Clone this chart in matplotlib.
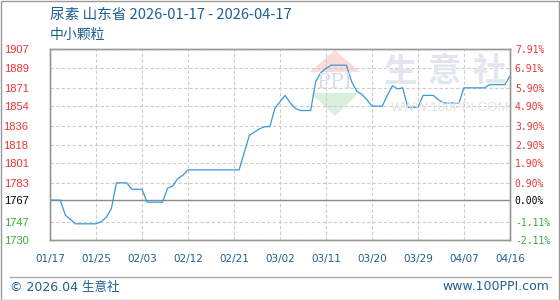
import matplotlib
matplotlib.use("Agg")
import matplotlib.pyplot as plt
from matplotlib.patches import Polygon, Rectangle
from matplotlib.lines import Line2D

# data
x_labels = ["01/17", "01/25", "02/03", "02/12", "02/21", "03/02",
            "03/11", "03/20", "03/29", "04/07", "04/16"]
prices = [1767, 1767, 1767, 1753, 1749, 1745, 1745, 1745, 1745, 1745,
          1747, 1751, 1759, 1783, 1783, 1783, 1777, 1777, 1777, 1765,
          1765, 1765, 1765, 1778, 1780, 1787, 1790, 1795, 1795, 1795,
          1795, 1795, 1795, 1795, 1795, 1795, 1795, 1795, 1811, 1827,
          1830, 1833, 1835, 1835, 1852, 1858, 1864, 1857, 1852, 1850,
          1850, 1850, 1877, 1885, 1889, 1892, 1892, 1892, 1892, 1877,
          1868, 1865, 1860, 1854, 1854, 1854, 1864, 1873, 1870, 1871,
          1853, 1853, 1853, 1864, 1864, 1864, 1860, 1857, 1857, 1857,
          1857, 1871, 1871, 1871, 1871, 1871, 1874, 1874, 1874, 1874,
          1882]
base = 1767
y_ticks = [1730, 1747, 1767, 1783, 1801, 1818, 1836, 1854, 1871, 1889, 1907]
pct_labels = ["-2.11%", "-1.11%", "0.00%", "0.90%", "1.90%", "2.90%",
              "3.90%", "4.90%", "5.90%", "6.91%", "7.91%"]

red = "#ee3333"
green = "#33aa33"
blue_txt = "#1e5f93"

W, H = 560, 300
fig = plt.figure(figsize=(5.6, 3.0), dpi=100)
ax = fig.add_axes([50 / W, 60 / H, 460 / W, 191 / H])


def fx(px):
    return px / W


def fy(py):
    return 1 - py / H


# watermark
ax.add_patch(Polygon([(fx(310), fy(72)), (fx(360), fy(72)), (fx(335), fy(50))],
                     closed=True, transform=fig.transFigure, facecolor="#fadcd8",
                     edgecolor="none", zorder=0.6))
ax.add_patch(Polygon([(fx(311), fy(93)), (fx(359), fy(93)), (fx(335), fy(116))],
                     closed=True, transform=fig.transFigure, facecolor="#d9f0dc",
                     edgecolor="none", zorder=0.6))
fig.text(fx(335), fy(82), "PPI", fontsize=15, family="DejaVu Serif", color="#d9e0ec",
         ha="center", va="center", zorder=0.7)
for ch, cx in zip("生意社", [401, 444, 489]):
    fig.text(fx(cx), fy(72), ch, fontsize=24, family="Noto Sans CJK SC",
             fontweight="bold", color="#e2e6ef", ha="center", va="center", zorder=0.7)
fig.text(fx(450), fy(108), "WWW.100PPI.COM", fontsize=9.5, family="Liberation Sans",
         color="#e3e3e3", ha="center", va="center", zorder=0.7)

days = list(range(len(prices)))
ax.plot(days, prices, color="#3a98d8", linewidth=0.9, zorder=3)
ax.axhline(base, color="#8c8c8c", linewidth=1.0, zorder=2)

ax.set_xlim(0, len(prices) - 1)
ax.set_ylim(y_ticks[0], y_ticks[-1])

ax.set_xticks(range(0, len(prices), 9))
ax.set_xticklabels(x_labels, fontsize=7.5, color=blue_txt, family="DejaVu Sans")
ax.tick_params(axis="x", length=0, pad=10)

ax.set_yticks(y_ticks)
ax.set_yticklabels([str(v) for v in y_ticks], fontsize=8, family="Liberation Sans")
ax.tick_params(axis="y", length=0, pad=15.5)
for lab, v in zip(ax.get_yticklabels(), y_ticks):
    lab.set_color(red if v > base else (green if v < base else "black"))

ax.grid(True, color="#cccccc", linestyle=(0, (3, 2)), linewidth=0.8)

ax2 = ax.twinx()
ax2.set_ylim(ax.get_ylim())
ax2.set_yticks(y_ticks)
ax2.set_yticklabels(pct_labels, fontsize=7, family="DejaVu Sans Mono")
ax2.tick_params(axis="y", length=0, pad=3.5)
for lab, v in zip(ax2.get_yticklabels(), y_ticks):
    lab.set_color(red if v > base else (green if v < base else "black"))

for a in (ax, ax2):
    for s in a.spines.values():
        s.set_color("#999999")
        s.set_linewidth(1.0)

# titles
fig.text(fx(50), fy(15), "尿素 山东省 2026-01-17 - 2026-04-17", fontsize=10.5,
         family=["Noto Sans CJK SC", "DejaVu Sans"], color=blue_txt, va="center")
fig.text(fx(50), fy(35), "中小颗粒", fontsize=10,
         family=["Noto Sans CJK SC", "DejaVu Sans"], color=blue_txt, va="center")

# footer
fig.add_artist(Line2D([fx(10), fx(551)], [fy(277), fy(277)], transform=fig.transFigure,
                      color="#aaaaaa", linewidth=1.0))
fig.text(fx(10), fy(287), "© 2026.04 生意社", fontsize=9,
         family=["DejaVu Sans", "Noto Sans CJK SC"], color=blue_txt, va="center")
fig.text(fx(549), fy(287), "www.100PPI.com", fontsize=9, family="DejaVu Sans",
         color=blue_txt, va="center", ha="right")

fig.add_artist(Rectangle((0.5 / W, 0.5 / H), 1 - 1.5 / W, 1 - 1.5 / H,
                         transform=fig.transFigure, fill=False,
                         edgecolor="#999999", linewidth=1.0))

fig.savefig("out.png", dpi=100)
